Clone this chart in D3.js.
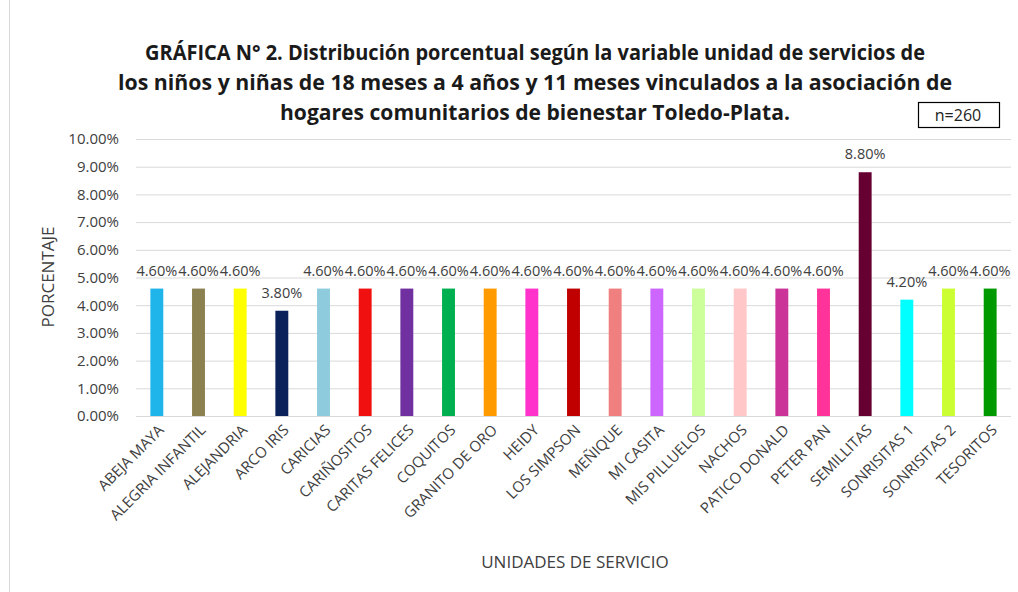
<!DOCTYPE html>
<html>
<head>
<meta charset="utf-8">
<script src="https://cdn.jsdelivr.net/npm/d3@7"></script>
<style>
  body { margin: 0; background: #fff; }
  svg { display: block; font-family: "Open Sans", "Noto Sans", sans-serif; }
</style>
</head>
<body>
<svg id="chart" width="1018" height="592"></svg>
<script>
// data
const units = ['ABEJA MAYA', 'ALEGRIA INFANTIL', 'ALEJANDRIA', 'ARCO IRIS', 'CARICIAS',
  'CARIÑOSITOS', 'CARITAS FELICES', 'COQUITOS', 'GRANITO DE ORO', 'HEIDY',
  'LOS SIMPSON', 'MEÑIQUE', 'MI CASITA', 'MIS PILLUELOS', 'NACHOS',
  'PATICO DONALD', 'PETER PAN', 'SEMILLITAS', 'SONRISITAS 1', 'SONRISITAS 2', 'TESORITOS'];
const percents = [4.6, 4.6, 4.6, 3.8, 4.6, 4.6, 4.6, 4.6, 4.6, 4.6,
  4.6, 4.6, 4.6, 4.6, 4.6, 4.6, 4.6, 8.8, 4.2, 4.6, 4.6];
const barColors = ['#1fb4ea', '#8b8150', '#ffff00', '#0a2259', '#8ecbdc',
  '#f01010', '#7030a0', '#00b050', '#ff9a00', '#ff33cc',
  '#c00000', '#f08080', '#cc66ff', '#ccff99', '#ffc7c7',
  '#cc3399', '#ff3399', '#660033', '#00ffff', '#ccff33', '#009900'];
const yTicks = [0, 1, 2, 3, 4, 5, 6, 7, 8, 9, 10];
const titleLines = [
  'GRÁFICA N° 2. Distribución porcentual según la variable unidad de servicios de',
  'los niños y niñas de 18 meses a 4 años y 11 meses vinculados a la asociación de',
  'hogares comunitarios de bienestar Toledo-Plata.'
];

const svg = d3.select('#chart');

// chart frame edge on the left
svg.append('line')
  .attr('x1', 9.5).attr('x2', 9.5).attr('y1', 0).attr('y2', 592)
  .attr('stroke', '#d9d9d9');

const x = d3.scaleBand().domain(units).range([136, 1011]).paddingInner(0.69).paddingOuter(0.345);
const y = d3.scaleLinear().domain([0, 10]).range([416, 139]);

// title
svg.append('g')
  .selectAll('text')
  .data(titleLines)
  .join('text')
  .attr('x', 535)
  .attr('y', (d, i) => 60 + i * 30)
  .attr('text-anchor', 'middle')
  .attr('font-size', 21)
  .attr('font-weight', 'bold')
  .attr('fill', '#1a1a1a')
  .attr('textLength', (d, i) => [780, 834, 510][i])
  .attr('lengthAdjust', 'spacingAndGlyphs')
  .text(d => d);

// n box
svg.append('rect')
  .attr('x', 918.5).attr('y', 102.5).attr('width', 81).attr('height', 25)
  .attr('fill', '#fff').attr('stroke', '#000').attr('stroke-width', 1.2);
svg.append('text')
  .attr('x', 958).attr('y', 121)
  .attr('text-anchor', 'middle')
  .attr('font-size', 16)
  .attr('fill', '#222')
  .text('n=260');

// gridlines + y labels
const yAxis = svg.append('g')
  .attr('transform', 'translate(136,0)')
  .call(d3.axisLeft(y).tickValues(yTicks).tickSize(-(1011 - 136)).tickFormat(d => d.toFixed(2) + '%'));
yAxis.select('.domain').remove();
yAxis.selectAll('.tick line').attr('stroke', '#d9d9d9');
yAxis.selectAll('.tick text')
  .attr('x', -17)
  .attr('font-size', 15)
  .attr('font-family', '"Open Sans", "Noto Sans", sans-serif')
  .attr('fill', '#404040');

// bars
svg.append('g')
  .selectAll('rect')
  .data(units)
  .join('rect')
  .attr('x', d => x(d))
  .attr('width', x.bandwidth())
  .attr('y', (d, i) => y(percents[i]))
  .attr('height', (d, i) => y(0) - y(percents[i]))
  .attr('fill', (d, i) => barColors[i]);

// value labels
svg.append('g')
  .selectAll('text')
  .data(units)
  .join('text')
  .attr('x', d => x(d) + x.bandwidth() / 2)
  .attr('y', (d, i) => y(percents[i]) - 13)
  .attr('text-anchor', 'middle')
  .attr('font-size', 14.5)
  .attr('fill', '#404040')
  .text((d, i) => percents[i].toFixed(2) + '%');

// x labels
const xAxis = svg.append('g')
  .attr('transform', 'translate(0,416)')
  .call(d3.axisBottom(x).tickSize(0));
xAxis.select('.domain').remove();
xAxis.selectAll('.tick text')
  .attr('font-size', 15)
  .attr('font-family', '"Open Sans", "Noto Sans", sans-serif')
  .attr('fill', '#404040')
  .attr('text-anchor', 'end')
  .attr('dy', null)
  .attr('y', 0)
  .attr('transform', 'translate(8,15) rotate(-45)');

// axis titles
svg.append('text')
  .attr('transform', 'translate(54,277) rotate(-90)')
  .attr('text-anchor', 'middle')
  .attr('font-size', 17)
  .attr('fill', '#404040')
  .text('PORCENTAJE');

svg.append('text')
  .attr('x', 575).attr('y', 568)
  .attr('text-anchor', 'middle')
  .attr('font-size', 17)
  .attr('fill', '#404040')
  .text('UNIDADES DE SERVICIO');
</script>
</body>
</html>
